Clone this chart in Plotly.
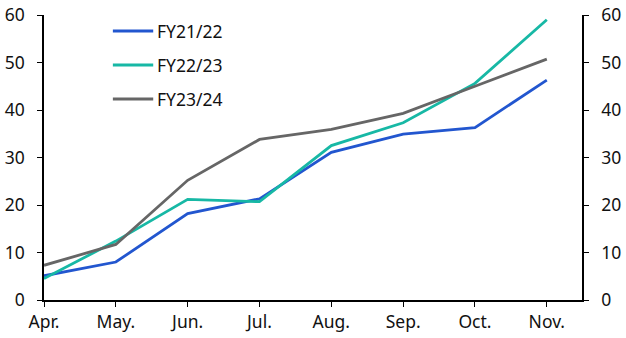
import plotly.graph_objects as go

months = ["Apr.", "May.", "Jun.", "Jul.", "Aug.", "Sep.", "Oct.", "Nov."]
fy2122 = [5.1, 8.0, 18.2, 21.3, 31.1, 34.9, 36.3, 46.3]
fy2223 = [4.5, 12.4, 21.2, 20.7, 32.5, 37.3, 45.6, 59.0]
fy2324 = [7.3, 11.7, 25.2, 33.8, 35.9, 39.3, 45.0, 50.7]

series = [("FY21/22", fy2122, "#2256CF"),
          ("FY22/23", fy2223, "#17B8A5"),
          ("FY23/24", fy2324, "#666666")]

fig = go.Figure()
xpos = list(range(len(months)))
for name, vals, col in series:
    fig.add_trace(go.Scatter(x=xpos, y=vals, mode="lines", name=name,
                             line=dict(color=col, width=2.8), showlegend=False))
# invisible trace to show right axis
fig.add_trace(go.Scatter(x=xpos, y=fy2122, yaxis="y2", mode="lines",
                         line=dict(width=0), showlegend=False, hoverinfo="skip", opacity=0))

font = dict(family="Noto Sans, Open Sans, sans-serif", size=17.5, color="#111111")
axis_common = dict(range=[0, 60], tickvals=[0, 10, 20, 30, 40, 50, 60],
                   showgrid=False, zeroline=False, showline=True, linecolor="black",
                   linewidth=1.6, ticks="outside", ticklen=5, tickcolor="black",
                   tickwidth=1.4, tickfont=font, automargin=False,
                   ticklabelstandoff=9)

# custom legend (paper coordinates)
leg_y = [0.944, 0.825, 0.705]
shapes, annots = [], []
for (name, vals, col), yy in zip(series, leg_y):
    shapes.append(dict(type="line", xref="paper", yref="paper", x0=0.128, x1=0.203,
                       y0=yy, y1=yy, line=dict(color=col, width=3)))
    annots.append(dict(xref="paper", yref="paper", x=0.207, y=yy, text=name,
                       showarrow=False, xanchor="left", yanchor="middle", font=font))

fig.update_layout(
    width=626, height=338,
    margin=dict(l=44, r=44, t=15, b=38),
    plot_bgcolor="white", paper_bgcolor="white",
    font=font,
    xaxis=dict(range=[0, 7.49], tickvals=xpos, ticktext=months, showgrid=False,
               zeroline=False, showline=True, linecolor="black", linewidth=1.6,
               ticks="outside", ticklen=5, tickcolor="black", tickwidth=1.4,
               tickfont=font, automargin=False),
    yaxis=dict(**axis_common, side="left"),
    yaxis2=dict(**axis_common, side="right", overlaying="y"),
    shapes=shapes, annotations=annots,
    showlegend=False,
)
fig.write_html("out.html")
